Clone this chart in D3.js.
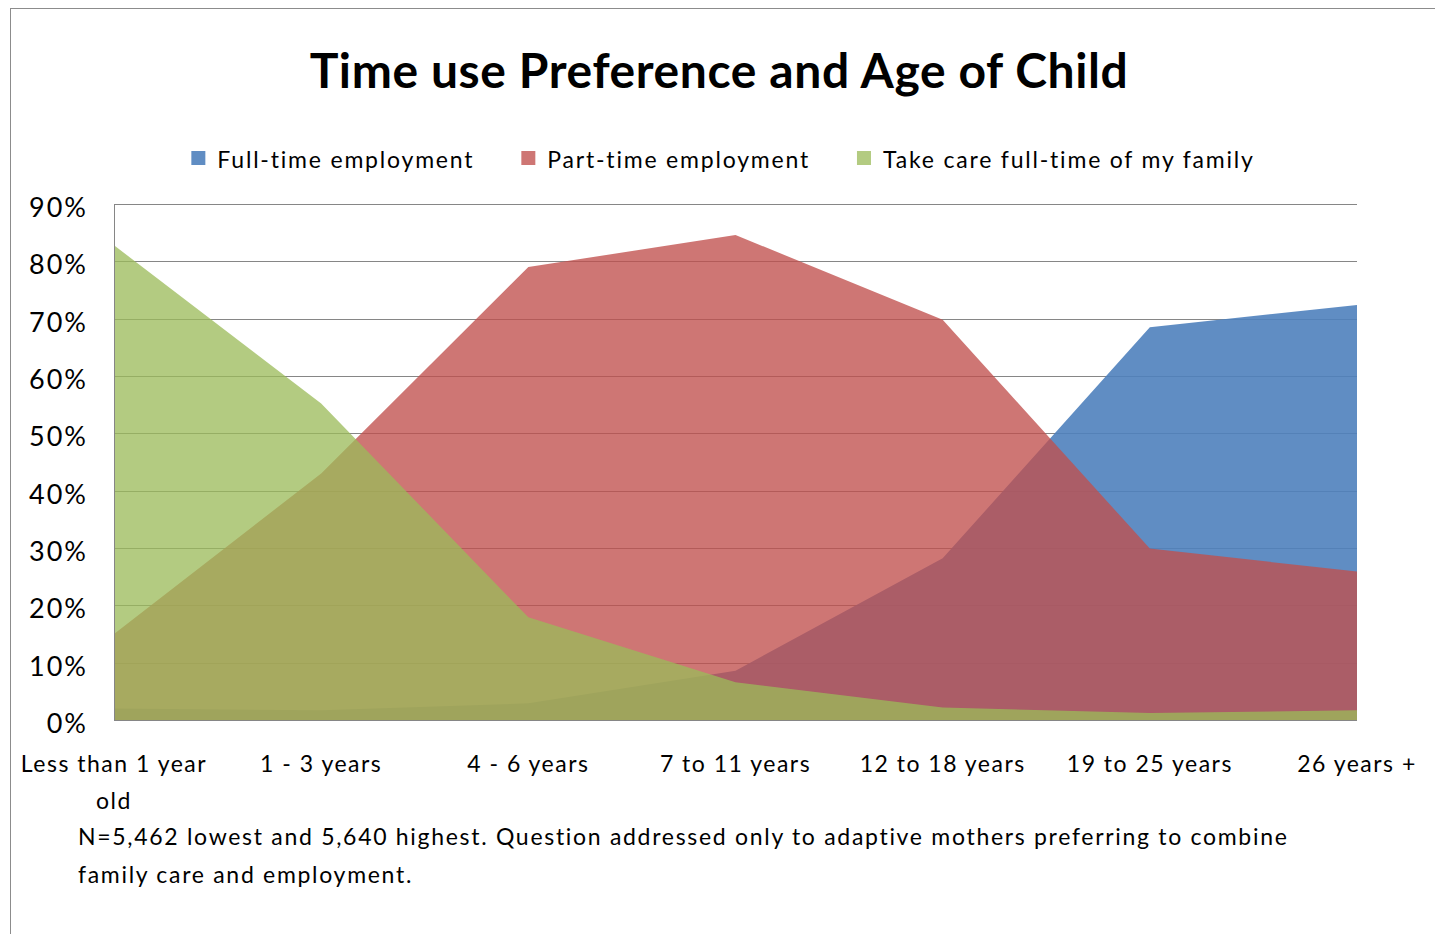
<!DOCTYPE html>
<meta charset="utf-8">
<style>
body {
  margin: 0;
  background: #fff;
  font-family: Lato, "Open Sans", sans-serif;
}
svg text { fill: #000; }
</style>
<body>
<div id="chart"></div>
<script src="https://d3js.org/d3.v7.min.js"></script>
<script>

const categories = ["Less than 1 year old", "1 - 3 years", "4 - 6 years", "7 to 11 years",
                    "12 to 18 years", "19 to 25 years", "26 years +"];
const fullTime = [2.0, 1.7, 2.9, 8.6, 28.2, 68.5, 72.4];
const partTime = [15.0, 43.0, 79.0, 84.6, 69.8, 29.9, 25.9];
const careFamily = [82.8, 55.2, 17.9, 6.6, 2.2, 1.2, 1.7];
const seriesNames = ["Full-time employment", "Part-time employment", "Take care full-time of my family"];
const yTicks = [0, 10, 20, 30, 40, 50, 60, 70, 80, 90];
const footnote = ["N=5,462 lowest and 5,640 highest. Question addressed only to adaptive mothers preferring to combine",
                  "family care and employment."];

const width = 1435, height = 934;
const margin = {top: 204, right: 78, bottom: 214, left: 114};

const series = [
  {name: seriesNames[0], values: fullTime,   color: "#4f81bd", opacity: 0.9},
  {name: seriesNames[1], values: partTime,   color: "#c0504d", opacity: 0.78},
  {name: seriesNames[2], values: careFamily, color: "#9bbb59", opacity: 0.76}
];

const x = d3.scalePoint()
  .domain(categories)
  .range([margin.left, width - margin.right]);

const y = d3.scaleLinear()
  .domain([0, 90])
  .range([height - margin.bottom, margin.top]);

const svg = d3.select("#chart")
  .append("svg")
  .attr("width", width)
  .attr("height", height);

// outer chart frame
svg.append("rect")
  .attr("x", 10.5).attr("y", 8.5)
  .attr("width", width + 20).attr("height", height + 20)
  .attr("fill", "none")
  .attr("stroke", "#8c8c8c");

// title
svg.append("text")
  .attr("x", 719)
  .attr("y", 88)
  .attr("text-anchor", "middle")
  .attr("font-weight", "bold")
  .attr("font-size", "48px")
  .attr("letter-spacing", "0.6px")
  .text("Time use Preference and Age of Child");

// gridlines
svg.append("g")
  .attr("transform", `translate(${margin.left},0)`)
  .call(d3.axisLeft(y).tickValues(yTicks).tickSize(-(width - margin.left - margin.right)).tickFormat(""))
  .call(g => g.select(".domain").remove())
  .call(g => g.selectAll("line").attr("stroke", "#868686").attr("shape-rendering", "crispEdges"));

// areas
const area = d3.area()
  .x((d, i) => x(categories[i]))
  .y0(y(0))
  .y1(d => y(d));

svg.append("g")
  .selectAll("path")
  .data(series)
  .join("path")
    .attr("d", d => area(d.values))
    .attr("fill", d => d.color)
    .attr("fill-opacity", d => d.opacity);

// left and bottom axis lines
svg.append("line")
  .attr("x1", margin.left).attr("x2", margin.left)
  .attr("y1", y(90)).attr("y2", y(0))
  .attr("stroke", "#868686")
  .attr("shape-rendering", "crispEdges");
svg.append("line")
  .attr("x1", margin.left).attr("x2", width - margin.right)
  .attr("y1", y(0)).attr("y2", y(0))
  .attr("stroke", "#868686")
  .attr("shape-rendering", "crispEdges");

// y tick labels
svg.append("g")
  .selectAll("text")
  .data(yTicks)
  .join("text")
    .attr("x", 88)
    .attr("y", d => y(d) + 13)
    .attr("text-anchor", "end")
    .attr("font-size", "27px")
    .attr("letter-spacing", "2px")
    .text(d => d + "%");

// x labels, wrapped inside the spacing between points
const xLabels = svg.append("g")
  .selectAll("text")
  .data(categories)
  .join("text")
    .attr("x", d => x(d))
    .attr("y", 772)
    .attr("text-anchor", "middle")
    .attr("font-size", "23px")
    .attr("letter-spacing", "1.5px")
    .text(d => d);

xLabels.each(function(d) {
  const t = d3.select(this);
  const words = d.split(" ");
  if (this.getComputedTextLength() <= x.step() - 10) return;
  t.text(null);
  let line = [], tspan = t.append("tspan").attr("x", x(d));
  words.forEach(w => {
    line.push(w);
    tspan.text(line.join(" "));
    if (tspan.node().getComputedTextLength() > x.step() - 10 && line.length > 1) {
      line.pop();
      tspan.text(line.join(" "));
      line = [w];
      tspan = t.append("tspan").attr("x", x(d)).attr("dy", "37px").text(w);
    }
  });
});

// legend
const legend = svg.append("g");
let lx = 0;
series.forEach(s => {
  const g = legend.append("g").attr("transform", `translate(${lx},0)`);
  g.append("rect")
    .attr("x", 0).attr("y", 151)
    .attr("width", 14).attr("height", 14)
    .attr("fill", s.color)
    .attr("fill-opacity", s.opacity);
  const t = g.append("text")
    .attr("x", 26)
    .attr("y", 168)
    .attr("font-size", "23px")
    .attr("letter-spacing", "1.8px")
    .text(s.name);
  lx += 26 + t.node().getComputedTextLength() + 47;
});
lx -= 47;
legend.attr("transform", `translate(${(193 + 1253) / 2 - lx / 2},0)`);

// footnote
svg.append("g")
  .selectAll("text")
  .data(footnote)
  .join("text")
    .attr("x", 78)
    .attr("y", (d, i) => 845 + i * 38)
    .attr("font-size", "23px")
    .attr("letter-spacing", "1.7px")
    .text(d => d);

</script>
